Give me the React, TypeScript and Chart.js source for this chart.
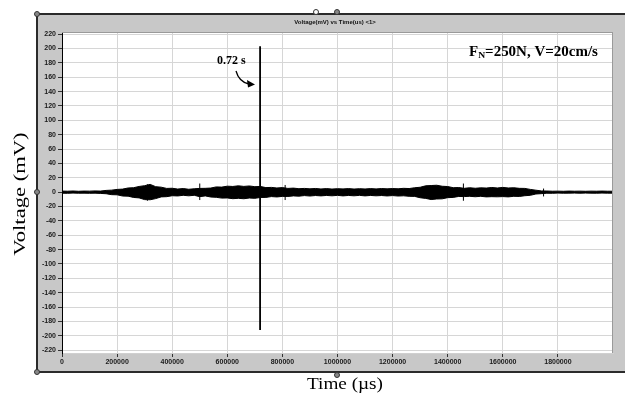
import React, { useEffect, useRef } from "react";
import { Chart, registerables } from "chart.js";

Chart.register(...registerables);

// ---- data ----
const sampleStep = 20000; // µs between envelope samples
const upperEnvelope = [
  1.5, 1.3, 1.6, 1.2, 1.5, 1.4, 1.7, 1.5, 2.4, 2.8,
  3.8, 4.2, 5.8, 6.2, 7.9, 9.0, 10.8, 7.6, 6.9, 5.2,
  5.4, 4.3, 5.0, 4.0, 4.7, 5.2, 5.3, 5.7, 7.3, 7.0,
  8.3, 7.9, 8.8, 8.0, 8.6, 7.6, 7.9, 6.3, 6.6, 5.8,
  6.3, 5.2, 5.6, 4.8, 5.2, 4.6, 5.1, 4.4, 4.9, 4.3,
  4.8, 4.5, 4.9, 4.3, 4.8, 4.4, 4.9, 4.5, 5.0, 4.6,
  5.0, 4.7, 5.3, 5.0, 6.1, 6.8, 8.8, 9.2, 9.6, 8.2,
  7.8, 6.2, 6.4, 5.3, 6.1, 5.4, 6.0, 5.7, 6.5, 5.8,
  6.6, 5.8, 6.1, 5.3, 5.2, 3.8, 2.7, 1.7, 1.6, 1.3,
  1.4, 1.2, 1.5, 1.3, 1.4, 1.2, 1.4, 1.3, 1.5, 1.3,
  1.3,
];
const lowerEnvelope = [
  -1.5, -1.6, -1.3, -1.5, -1.4, -1.6, -1.4, -1.8, -2.2, -3.5,
  -3.7, -5.4, -5.6, -7.4, -8.0, -10.4, -10.6, -9.0, -6.6, -6.3,
  -5.0, -5.3, -4.4, -5.1, -4.4, -6.3, -5.2, -6.8, -7.2, -8.3,
  -8.1, -9.1, -8.6, -9.2, -8.2, -8.6, -7.4, -7.3, -6.2, -6.7,
  -5.9, -6.0, -5.2, -5.6, -4.8, -5.4, -4.7, -5.2, -4.6, -5.1,
  -4.5, -5.2, -4.6, -5.1, -4.5, -5.2, -4.6, -5.1, -4.7, -5.3,
  -4.8, -5.4, -5.1, -5.8, -5.9, -7.8, -8.7, -10.3, -9.5, -9.3,
  -7.7, -7.3, -6.0, -6.2, -5.8, -6.4, -5.8, -6.6, -6.3, -6.5,
  -6.2, -6.6, -5.8, -6.0, -5.0, -4.4, -2.6, -2.1, -1.5, -1.6,
  -1.3, -1.5, -1.4, -1.3, -1.5, -1.3, -1.4, -1.5, -1.3, -1.4,
  -1.4,
];
const spikeTimes = [310000, 500000, 719000, 810000, 1457000, 1748000];
const spikeTops = [11, 12, 203, 10, 12, 5];
const spikeBottoms = [-12, -11, -192, -11, -12, -6];
const spikeWidths = [1, 1, 1.8, 1, 1, 1];

const xTickValues = [0, 200000, 400000, 600000, 800000, 1000000, 1200000, 1400000, 1600000, 1800000];
const yTickValues = [
  -220, -200, -180, -160, -140, -120, -100, -80, -60, -40, -20, 0,
  20, 40, 60, 80, 100, 120, 140, 160, 180, 200, 220,
];

const chartTitle = "Voltage(mV) vs Time(us) <1>";
const yAxisTitle = "Voltage (mV)";
const xAxisTitle = "Time (\u00b5s)";
const conditionMain = "F";
const conditionSub = "N";
const conditionRest = "=250N, V=20cm/s";
const spikeNote = "0.72 s";

const W = 625;
const H = 394;

const framePlugin = {
  id: "frame",
  beforeDraw(chart: any) {
    const ctx = chart.ctx as CanvasRenderingContext2D;
    const a = chart.chartArea;
    ctx.save();
    ctx.fillStyle = "#ffffff";
    ctx.fillRect(0, 0, W, H);
    // gray frame
    ctx.fillStyle = "#c8c8c8";
    ctx.fillRect(37, 14, W - 37, 372 - 14);
    // dark borders
    ctx.strokeStyle = "#2b2b2b";
    ctx.lineWidth = 2;
    ctx.beginPath();
    ctx.moveTo(37, 14);
    ctx.lineTo(W, 14);
    ctx.moveTo(37, 14);
    ctx.lineTo(37, 372);
    ctx.lineTo(W, 372);
    ctx.stroke();
    // title
    ctx.fillStyle = "#111";
    ctx.font = "bold 6px 'Liberation Sans', Arial, sans-serif";
    ctx.textAlign = "center";
    ctx.textBaseline = "middle";
    ctx.fillText(chartTitle, 335, 22);
    // plot background
    ctx.fillStyle = "#ffffff";
    ctx.fillRect(a.left, a.top, a.right - a.left, a.bottom - a.top);
    ctx.restore();
  },
  afterDraw(chart: any) {
    const ctx = chart.ctx as CanvasRenderingContext2D;
    const a = chart.chartArea;
    ctx.save();
    // plot top/right borders
    ctx.strokeStyle = "#9a9a9a";
    ctx.lineWidth = 1;
    ctx.beginPath();
    ctx.moveTo(a.left, a.top + 0.5);
    ctx.lineTo(a.right, a.top + 0.5);
    ctx.moveTo(a.right - 0.5, a.top);
    ctx.lineTo(a.right - 0.5, a.bottom);
    ctx.stroke();

    // condition annotation
    ctx.fillStyle = "#000";
    ctx.textBaseline = "alphabetic";
    ctx.textAlign = "left";
    ctx.save();
    ctx.translate(469, 56);
    ctx.scale(1.07, 1);
    ctx.font = "bold 14px 'Liberation Serif', 'Times New Roman', serif";
    let x = 0;
    ctx.fillText(conditionMain, x, 0);
    x += ctx.measureText(conditionMain).width;
    ctx.font = "bold 9px 'Liberation Serif', 'Times New Roman', serif";
    ctx.fillText(conditionSub, x, 2);
    x += ctx.measureText(conditionSub).width;
    ctx.font = "bold 14px 'Liberation Serif', 'Times New Roman', serif";
    ctx.fillText(conditionRest, x, 0);
    ctx.restore();

    // spike note
    ctx.font = "bold 12px 'Liberation Serif', 'Times New Roman', serif";
    ctx.fillText(spikeNote, 217, 64);
    // curved arrow
    ctx.strokeStyle = "#000";
    ctx.lineWidth = 1.3;
    ctx.beginPath();
    ctx.moveTo(236, 71);
    ctx.quadraticCurveTo(239, 82, 249, 84);
    ctx.stroke();
    ctx.beginPath();
    ctx.moveTo(255, 84.5);
    ctx.lineTo(247, 80);
    ctx.lineTo(248, 87.5);
    ctx.closePath();
    ctx.fill();

    // axis titles (the figure's lettering is stretched along the text direction)
    ctx.font = "16px 'Liberation Serif', 'Times New Roman', serif";
    ctx.textAlign = "center";
    ctx.textBaseline = "alphabetic";
    ctx.save();
    ctx.translate(345, 389);
    ctx.scale(1.2, 1);
    ctx.fillText(xAxisTitle, 0, 0);
    ctx.restore();
    ctx.save();
    ctx.translate(25, 194);
    ctx.rotate(-Math.PI / 2);
    ctx.scale(1.33, 1);
    ctx.font = "17px 'Liberation Serif', 'Times New Roman', serif";
    ctx.fillText(yAxisTitle, 0, 0);
    ctx.restore();

    // little frame handles
    const handles: [number, number, string][] = [
      [37, 14, "#888"],
      [316, 12, "#fff"],
      [337, 12, "#888"],
      [37, 192, "#888"],
      [337, 375, "#888"],
      [37, 372, "#888"],
    ];
    ctx.lineWidth = 1;
    ctx.strokeStyle = "#333";
    for (const [hx, hy, c] of handles) {
      ctx.beginPath();
      ctx.arc(hx, hy, 2.5, 0, Math.PI * 2);
      ctx.fillStyle = c;
      ctx.fill();
      ctx.stroke();
    }
    ctx.restore();
  },
};

export default function App() {
  const ref = useRef<HTMLCanvasElement | null>(null);
  useEffect(() => {
    document.body.style.margin = "0";
    const canvas = ref.current;
    if (!canvas) return;
    const upper = upperEnvelope.map((v, i) => ({ x: i * sampleStep, y: v }));
    const lower = lowerEnvelope.map((v, i) => ({ x: i * sampleStep, y: v }));
    const spikeSets = spikeTimes.map((t, i) => ({
      data: [
        { x: t, y: spikeBottoms[i] },
        { x: t, y: spikeTops[i] },
      ],
      borderColor: "#000",
      borderWidth: spikeWidths[i],
      pointRadius: 0,
      fill: false,
    }));
    const chart = new Chart(canvas, {
      type: "line",
      data: {
        datasets: [
          {
            data: upper,
            borderColor: "#000",
            backgroundColor: "#000",
            borderWidth: 1,
            pointRadius: 0,
            fill: "+1",
            tension: 0,
          },
          {
            data: lower,
            borderColor: "#000",
            borderWidth: 1,
            pointRadius: 0,
            fill: false,
            tension: 0,
          },
          ...spikeSets,
        ] as any,
      },
      options: {
        animation: false,
        responsive: false,
        devicePixelRatio: 1,
        layout: { padding: { left: 0, top: 32, right: 12, bottom: 0 } },
        plugins: {
          legend: { display: false },
          tooltip: { enabled: false },
          title: { display: false },
        },
        scales: {
          x: {
            type: "linear",
            min: 0,
            max: 2000000,
            afterBuildTicks: (axis: any) => {
              axis.ticks = xTickValues.map((v) => ({ value: v }));
            },
            afterFit: (scale: any) => {
              scale.height = 41;
            },
            ticks: {
              autoSkip: false,
              maxRotation: 0,
              padding: 1,
              color: "#1a1a1a",
              font: { family: "'Liberation Sans', Arial, sans-serif", size: 7, weight: "bold" },
              callback: (v: any) => String(v),
            },
            grid: {
              color: "#d6d6d6",
              lineWidth: 1,
              tickLength: 4,
              tickColor: "#333",
              drawTicks: true,
            },
            border: { display: true, color: "#d0d0d0" },
          },
          y: {
            type: "linear",
            min: -224,
            max: 223,
            afterBuildTicks: (axis: any) => {
              axis.ticks = yTickValues.map((v) => ({ value: v }));
            },
            afterFit: (scale: any) => {
              scale.width = 62;
            },
            ticks: {
              autoSkip: false,
              padding: 2,
              color: "#1a1a1a",
              font: { family: "'Liberation Sans', Arial, sans-serif", size: 7, weight: "bold" },
              callback: (v: any) => String(v),
            },
            grid: {
              color: "#d6d6d6",
              lineWidth: 1,
              tickLength: 4,
              tickColor: "#333",
              drawTicks: true,
            },
            border: { display: true, color: "#000", width: 1 },
          },
        },
      },
      plugins: [framePlugin],
    });
    return () => chart.destroy();
  }, []);
  return <canvas ref={ref} width={W} height={H} style={{ display: "block", width: W, height: H }} />;
}
